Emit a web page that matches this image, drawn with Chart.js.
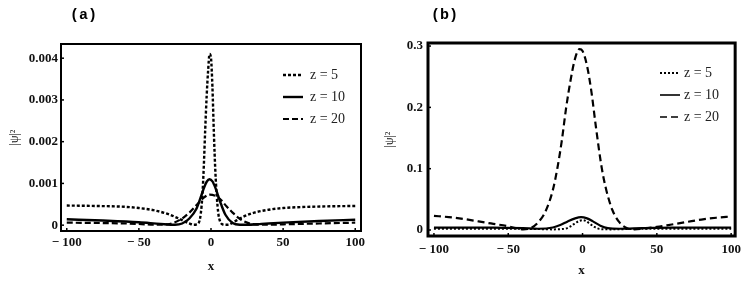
<!DOCTYPE html>
<html>
<head>
<meta charset="utf-8">
<script src="https://cdn.jsdelivr.net/npm/chart.js@4/dist/chart.umd.min.js"></script>
<style>
  html, body { margin: 0; padding: 0; background: #fff; }
  body { width: 747px; height: 282px; position: relative; overflow: hidden; }
  .panel { position: absolute; top: 0; height: 282px; }
  .ptitle { position: absolute; font-family: "Liberation Mono", monospace; font-weight: bold; font-size: 15px; line-height: 16px; color: #000; }
  .legend { position: absolute; font-family: "Liberation Serif", serif; font-size: 14px; color: #222; }
  .legend .row { position: absolute; left: 0; white-space: nowrap; height: 16px; }
  .legend svg { position: absolute; left: 0; top: 0; }
  .legend span { position: absolute; top: 0; line-height: 16px; }
</style>
</head>
<body>
<div class="panel" style="left:0;width:373px;"><canvas id="ca" width="373" height="282"></canvas></div>
<div class="panel" style="left:377px;width:370px;"><canvas id="cb" width="370" height="282"></canvas></div>
<div class="ptitle" style="left:70px;top:8px;">(a)</div>
<div class="ptitle" style="left:431px;top:8px;">(b)</div>
<div class="legend" id="lega" style="left:283px;top:67px;"></div>
<div class="legend" id="legb" style="left:660px;top:65px;"></div>
<script>
// ---------- data: panel (a) ----------
const seriesLabels = ['z = 5', 'z = 10', 'z = 20'];

const a_z5_x = [-100, -80, -60, -50, -40, -30, -25, -20, -15, -12, -10, -8, -7, -6, -5, -4, -3, -2, -1, 0, 1, 2, 3, 4, 5, 6, 8, 10, 12, 15, 20, 25, 30, 40, 50, 60, 80, 100];
const a_z5_y = [0.00047, 0.00046, 0.00044, 0.00041, 0.00036, 0.00027, 0.0002, 0.00012, 0.00004, 0.00001, 0.00002, 0.0001, 0.0003, 0.0007, 0.0014, 0.0023, 0.0031, 0.0037, 0.0041, 0.0040, 0.0033, 0.0022, 0.0013, 0.0007, 0.0003, 0.00012, 0.00002, 0.00001, 0.00001, 0.00006, 0.00016, 0.00024, 0.0003, 0.00037, 0.00041, 0.00043, 0.00045, 0.00046];

const a_z10_x = [-100, -75, -50, -35, -25, -20, -15, -10, -7, -5, -3, -1, 1, 3, 5, 7, 10, 15, 20, 25, 35, 50, 75, 100];
const a_z10_y = [0.00014, 0.00011, 0.00007, 0.00003, 0.00001, 0.00004, 0.00016, 0.0004, 0.00068, 0.00088, 0.00104, 0.0011, 0.00105, 0.0009, 0.0007, 0.0005, 0.00025, 0.00005, 0.00001, 0.00001, 0.00003, 0.00006, 0.0001, 0.00013];

const a_z20_x = [-100, -75, -50, -40, -30, -25, -20, -15, -10, -5, -1, 3, 7, 10, 15, 20, 25, 30, 40, 50, 75, 100];
const a_z20_y = [0.00006, 0.00005, 0.00003, 0.00001, 0.00002, 0.00007, 0.00016, 0.0003, 0.00048, 0.00066, 0.00073, 0.0007, 0.0006, 0.00048, 0.0003, 0.00015, 0.00006, 0.00002, 0.00001, 0.00002, 0.00004, 0.00006];

// ---------- data: panel (b) ----------
const b_z5_x = [-100, -50, -30, -20, -12, -8, -5, -2, 0, 2, 5, 8, 12, 20, 30, 50, 100];
const b_z5_y = [0.002, 0.002, 0.0015, 0.001, 0.002, 0.006, 0.011, 0.015, 0.016, 0.015, 0.01, 0.005, 0.0015, 0.001, 0.0015, 0.002, 0.002];

const b_z10_x = [-100, -60, -40, -30, -20, -15, -10, -5, -1, 3, 7, 12, 17, 25, 40, 60, 100];
const b_z10_y = [0.004, 0.004, 0.003, 0.002, 0.004, 0.008, 0.014, 0.019, 0.021, 0.019, 0.014, 0.007, 0.003, 0.002, 0.003, 0.004, 0.004];

const b_z20_x = [-100, -90, -80, -70, -60, -50, -45, -40, -35, -30, -25, -20, -17, -14, -11, -8, -5, -2, 0, 3, 6, 9, 13, 16, 20, 25, 30, 35, 40, 50, 60, 70, 80, 90, 100];
const b_z20_y = [0.023, 0.021, 0.018, 0.014, 0.01, 0.006, 0.003, 0.001, 0.003, 0.012, 0.03, 0.065, 0.1, 0.145, 0.2, 0.245, 0.28, 0.295, 0.292, 0.268, 0.225, 0.168, 0.1, 0.065, 0.033, 0.012, 0.003, 0.001, 0.002, 0.005, 0.009, 0.013, 0.017, 0.02, 0.022];

// ---------- tick labels ----------
const xTicks = [-100, -50, 0, 50, 100];
const xTickLabels = ['\u2212 100', '\u2212 50', '0', '50', '100'];
const aYTicks = [0, 0.001, 0.002, 0.003, 0.004];
const aYTickLabels = ['0', '0.001', '0.002', '0.003', '0.004'];
const bYTicks = [0, 0.1, 0.2, 0.3];
const bYTickLabels = ['0', '0.1', '0.2', '0.3'];

const xTitle = 'x';
const yTitle = '|\u03c8|\u00b2';

// ---------- helpers ----------
function pts(xs, ys) { return xs.map((x, i) => ({ x: x, y: ys[i] })); }

function boxPlugin(lw, tickLen) {
  return {
    id: 'boxTicks',
    afterDatasetsDraw(chart) {
      const { ctx, chartArea: a } = chart;
      ctx.save();
      ctx.strokeStyle = '#000';
      ctx.lineWidth = 1.5;
      const xs = chart.scales.x, ys = chart.scales.y;
      xs.ticks.forEach(t => {
        const p = xs.getPixelForValue(t.value);
        ctx.beginPath(); ctx.moveTo(p, a.bottom); ctx.lineTo(p, a.bottom - tickLen); ctx.stroke();
      });
      ys.ticks.forEach(t => {
        const p = ys.getPixelForValue(t.value);
        ctx.beginPath(); ctx.moveTo(a.left, p); ctx.lineTo(a.left + tickLen, p); ctx.stroke();
      });
      ctx.lineWidth = lw;
      ctx.strokeRect(a.left, a.top, a.right - a.left, a.bottom - a.top);
      ctx.restore();
    }
  };
}

function makeChart(id, cfg) {
  const ds = cfg.series.map((s, i) => ({
    label: seriesLabels[i],
    data: pts(s[0], s[1]),
    borderColor: '#000',
    borderWidth: cfg.widths[i],
    borderDash: cfg.dashes[i],
    pointRadius: 0,
    fill: false,
    cubicInterpolationMode: 'monotone'
  }));
  return new Chart(document.getElementById(id), {
    type: 'line',
    data: { datasets: ds },
    options: {
      responsive: false,
      animation: false,
      events: [],
      layout: { padding: { top: cfg.top, right: cfg.right, left: 0, bottom: 0 } },
      plugins: { legend: { display: false }, tooltip: { enabled: false }, title: { display: false } },
      scales: {
        x: {
          type: 'linear',
          min: cfg.xmin, max: cfg.xmax,
          afterBuildTicks(s) { s.ticks = xTicks.map(v => ({ value: v })); },
          afterFit(s) { s.height = cfg.xh; },
          grid: { display: false, drawTicks: false },
          border: { display: false },
          ticks: {
            padding: cfg.xpad,
            color: '#111',
            font: { family: 'Liberation Serif', weight: 'bold', size: 13 },
            maxRotation: 0,
            callback(v) { const i = xTicks.indexOf(v); return i >= 0 ? xTickLabels[i] : ''; }
          },
          title: {
            display: true, text: xTitle, color: '#111',
            font: { family: 'Liberation Serif', weight: 'bold', size: 13 },
            padding: { top: 0, bottom: cfg.xtpad }
          }
        },
        y: {
          type: 'linear',
          min: cfg.ymin, max: cfg.ymax,
          afterBuildTicks(s) { s.ticks = cfg.yTicks.map(v => ({ value: v })); },
          afterFit(s) { s.width = cfg.yw; },
          grid: { display: false, drawTicks: false },
          border: { display: false },
          ticks: {
            padding: cfg.ypad,
            color: '#111',
            font: { family: 'Liberation Serif', weight: 'bold', size: 13 },
            callback(v) { const i = cfg.yTicks.indexOf(v); return i >= 0 ? cfg.yLabels[i] : ''; }
          },
          title: {
            display: true, text: yTitle, color: '#111',
            font: { family: 'Liberation Serif', size: 12 },
            padding: { top: cfg.ytpad, bottom: 0 }
          }
        }
      }
    },
    plugins: [boxPlugin(cfg.box, 3)]
  });
}

makeChart('ca', {
  series: [[a_z5_x, a_z5_y], [a_z10_x, a_z10_y], [a_z20_x, a_z20_y]],
  widths: [2.4, 2.4, 2.2],
  dashes: [[3, 2], [], [6, 3]],
  top: 44, right: 12, xh: 51, yw: 61,
  xmin: -104, xmax: 104, ymin: -0.00014, ymax: 0.00434,
  yTicks: aYTicks, yLabels: aYTickLabels,
  xpad: 4, xtpad: 8, ypad: 3, ytpad: 8, box: 2
});

makeChart('cb', {
  series: [[b_z5_x, b_z5_y], [b_z10_x, b_z10_y], [b_z20_x, b_z20_y]],
  widths: [2, 2.2, 2.2],
  dashes: [[2, 2], [], [7, 4]],
  top: 43, right: 8, xh: 46, yw: 51,
  xmin: -104, xmax: 102.7, ymin: -0.0098, ymax: 0.305,
  yTicks: bYTicks, yLabels: bYTickLabels,
  xpad: 6, xtpad: 4, ypad: 5, ytpad: 6, box: 3
});

// ---------- legends (HTML, from series labels) ----------
function buildLegend(id, dashes, widths, rowGap, textLeft) {
  const el = document.getElementById(id);
  seriesLabels.forEach((lab, i) => {
    const row = document.createElement('div');
    row.className = 'row';
    row.style.top = (i * rowGap) + 'px';
    const d = dashes[i].length ? dashes[i].join(',') : 'none';
    row.innerHTML = '<svg width="20" height="16"><line x1="0" y1="8" x2="20" y2="8" stroke="#000" stroke-width="' + widths[i] + '" stroke-dasharray="' + d + '"/></svg>' +
      '<span style="left:' + textLeft + 'px">' + lab + '</span>';
    el.appendChild(row);
  });
}
buildLegend('lega', [[3, 2], [], [6, 3]], [2.4, 2.4, 2.2], 22, 27);
buildLegend('legb', [[2, 2], [], [7, 4]], [2, 1.6, 1.6], 22, 24);
</script>
</body>
</html>
